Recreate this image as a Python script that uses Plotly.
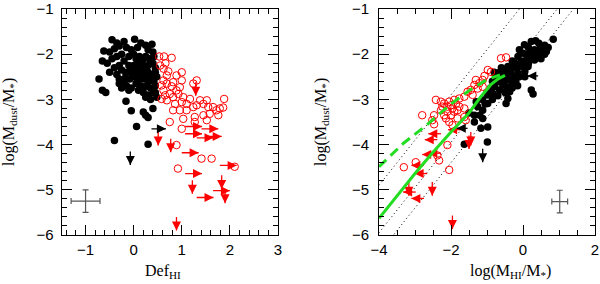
import plotly.graph_objects as go

# ---------------- Left panel data: Def_HI vs log(Mdust/M*) ----------------
L_black_x = [-0.45,-0.35,-0.2,0.02,0.15,0.25,0.38,-0.5,-0.4,-0.3,-0.15,-0.05,0.08,0.3,0.4,-0.62,
             -0.65,-0.55,-0.45,-0.35,-0.25,-0.2,-0.1,0.0,0.05,0.12,0.18,0.25,0.32,0.42,0.4,0.3,0.2,0.1,0.0,-0.1,-0.3,-0.4,0.45,0.35,0.15,0.05,
             -0.5,-0.35,-0.25,-0.15,-0.05,0.0,0.05,0.1,0.15,0.2,0.25,0.3,0.35,0.4,0.45,0.48,0.02,-0.08,0.12,0.22,0.3,0.42,-0.3,-0.2,0.08,-0.02,
             -0.72,-0.65,-0.58,-0.3,-0.15,-0.05,0.05,0.15,0.2,0.28,0.35,0.45,0.4,0.3,0.2,0.1,-0.1,-0.25,0.45,0.48,0.25,
             -0.16,-0.05,0.2,0.25,0.3,0.4,0.06,0.35,-0.4,0.3]
L_black_y = [-1.68,-1.75,-1.72,-1.67,-1.75,-1.8,-1.78,-1.95,-1.88,-1.82,-1.85,-1.9,-1.85,-1.9,-1.95,-1.93,
             -2.15,-2.2,-2.1,-2.05,-2.0,-2.15,-2.05,-2.0,-2.1,-2.05,-2.15,-2.05,-2.1,-2.05,-2.2,-2.25,-2.28,-2.2,-2.25,-2.25,-2.25,-2.3,-2.3,-2.15,-2.3,-2.3,
             -2.4,-2.45,-2.35,-2.4,-2.35,-2.4,-2.45,-2.4,-2.5,-2.38,-2.45,-2.4,-2.5,-2.45,-2.4,-2.5,-2.5,-2.55,-2.55,-2.55,-2.6,-2.6,-2.55,-2.6,-2.35,-2.45,
             -2.55,-2.8,-2.85,-2.65,-2.7,-2.75,-2.65,-2.7,-2.75,-2.7,-2.75,-2.7,-2.85,-2.9,-2.85,-2.8,-2.8,-2.75,-2.85,-2.95,-2.95,
             -3.04,-3.25,-3.28,-3.35,-3.4,-3.2,-3.6,-3.0,-3.91,-3.99]

L_red_x = [0.53,0.63,0.79,0.66,0.55,0.62,0.72,1.0,0.69,0.89,0.62,0.82,0.58,0.69,0.79,0.96,0.62,0.89,1.0,1.24,
           0.75,0.65,0.58,0.82,0.93,1.03,0.69,0.86,1.0,1.17,1.1,1.31,1.38,0.82,0.96,1.1,1.24,1.45,1.55,1.65,
           1.72,1.79,1.88,1.86,1.76,1.58,1.45,1.27,1.03,1.0,0.75,1.27,1.52,0.89,0.92,1.41,1.62,2.1,1.52,1.31]
L_red_y = [-2.05,-2.05,-2.08,-2.2,-2.25,-2.32,-2.38,-2.4,-2.47,-2.47,-2.58,-2.62,-2.69,-2.65,-2.71,-2.73,-2.8,-2.8,-2.58,-2.65,
           -2.88,-2.91,-2.99,-2.95,-2.88,-2.95,-3.02,-3.1,-3.06,-2.99,-3.1,-3.13,-3.02,-3.24,-3.24,-3.24,-3.17,-3.1,-3.17,-3.17,
           -3.24,-3.2,-2.99,-3.18,-3.35,-3.32,-3.35,-3.39,-3.43,-3.65,-3.5,-3.5,-3.46,-4.01,-4.53,-4.31,-4.31,-4.49,-3.02,-2.58]

# upper limits (down arrows): start points
L_red_down_x = [1.29,0.51,0.77,1.22,1.83,1.9,0.89]
L_red_down_y = [-2.62,-3.72,-3.87,-4.79,-4.68,-5.0,-5.6]
# lower limits on Def_HI (right arrows): start points
L_red_right_x = [1.07,1.41,1.07,1.48,1.31,1.0,1.07,1.79,1.31,1.65]
L_red_right_y = [-3.6,-3.65,-3.76,-3.82,-3.85,-4.18,-4.64,-4.46,-5.17,-5.02]
L_black_down_x = [-0.07]
L_black_down_y = [-4.15]
L_black_right_x = [0.37,-0.35]
L_black_right_y = [-3.65,-2.5]

# ---------------- Right panel data: log(MHI/M*) vs log(Mdust/M*) ----------------
R_black_x = [0.84,0.44,0.23,0.35,0.55,0.04,0.15,0.32,0.51,0.65,0.6,0.23,0.0,-0.1,0.1,0.4,-0.14,0.09,0.32,-0.05,
             0.2,-0.23,0.0,0.15,-0.3,-0.42,-0.09,0.14,-0.2,-0.51,-0.35,-0.33,-0.14,0.05,-0.45,-0.61,-0.25,-0.4,-0.47,-0.7,
             -0.55,-0.3,-0.56,-0.79,-0.45,-0.65,-0.84,-0.5,-0.98,-0.7,-1.12,-0.98,-0.85,-1.26,-1.12,-1.35,-1.12,-1.35,-0.98,-1.17,
             -1.63,-0.99,0.23,0.28,-0.42,-0.47,-0.37,-0.6,-0.75,-0.65,-0.85,-0.9,0.3,0.45,0.5,-0.2,-0.1,0.05,-1.0,-1.05,
             -0.8,-0.15,-0.3,0.6,0.7,-1.5,-1.3,-1.2]
R_black_y = [-1.67,-1.76,-1.72,-1.7,-1.85,-1.79,-1.85,-1.9,-1.96,-1.94,-2.0,-1.98,-1.98,-1.9,-2.0,-2.05,-2.05,-2.13,-2.13,-2.15,
             -2.1,-2.2,-2.25,-2.2,-2.15,-2.27,-2.27,-2.27,-2.3,-2.35,-2.3,-2.42,-2.42,-2.38,-2.45,-2.46,-2.5,-2.55,-2.57,-2.61,
             -2.6,-2.62,-2.68,-2.72,-2.72,-2.79,-2.87,-2.85,-2.9,-2.92,-3.01,-3.09,-3.0,-3.16,-3.24,-3.35,-3.42,-3.5,-3.61,-3.64,
             -3.99,-3.94,-2.79,-2.88,-2.98,-3.09,-2.83,-2.3,-2.5,-2.4,-2.6,-2.75,-2.0,-1.9,-2.1,-2.6,-2.5,-2.5,-2.85,-3.1,
             -2.4,-2.7,-2.75,-1.8,-1.85,-3.3,-3.05,-3.35]

R_red_x = [-0.47,-0.61,-0.98,-0.89,-1.07,-1.12,-1.31,-1.21,-1.35,-1.12,-1.26,-1.45,-1.54,-1.4,-1.63,-1.77,-1.91,-2.05,-2.19,-2.0,
           -1.86,-1.77,-1.96,-2.1,-2.24,-2.28,-2.1,-1.91,-1.82,-1.63,-2.0,-2.19,-2.14,-1.82,-1.63,-1.59,-2.05,-1.96,-2.47,-2.52,
           -2.47,-2.8,-2.42,-2.28,-2.1,-2.38,-2.33,-2.98,-3.31,-2.05]
R_red_y = [-2.07,-2.09,-2.35,-2.39,-2.48,-2.57,-2.57,-2.64,-2.68,-2.72,-2.76,-2.79,-2.83,-2.9,-2.94,-2.98,-3.01,-3.05,-3.09,-3.13,
           -3.1,-3.16,-3.2,-3.16,-3.16,-3.24,-3.27,-3.27,-3.24,-3.2,-3.35,-3.35,-3.42,-3.42,-3.39,-3.46,-3.5,-3.57,-3.35,-3.46,
           -3.55,-3.35,-3.01,-3.05,-4.01,-4.24,-4.35,-4.39,-4.5,-4.56]

R_red_down_x = [-1.45,-1.5,-2.52,-3.17,-1.96]
R_red_down_y = [-3.72,-3.8,-4.83,-4.83,-5.57]
R_red_left_x = [-2.28,-2.38,-2.28,-2.45,-2.75,-2.66,-2.98,-2.75,-1.73]
R_red_left_y = [-3.76,-3.89,-4.19,-4.22,-4.46,-4.64,-5.05,-5.19,-3.67]
R_black_down_x = [-1.12]
R_black_down_y = [-4.09]
R_black_left_x = [-1.54,0.42]
R_black_left_y = [-3.64,-2.48]

# model curves (right panel)
solid_x = [-4.0,-3.5,-3.0,-2.5,-2.0,-1.5,-1.2,-0.9,-0.7,-0.5]
solid_y = [-5.63,-5.13,-4.64,-4.17,-3.72,-3.3,-2.97,-2.68,-2.55,-2.47]
dash_x = [-4.0,-3.32,-2.68,-2.03,-1.47,-1.0,-0.64]
dash_y = [-4.49,-3.97,-3.57,-3.12,-2.79,-2.56,-2.46]
# dotted reference relations y = x + c
dot_intercepts = [-0.9, -1.95, -2.4]

# typical error bars
L_err_x, L_err_y, L_err_dx, L_err_dy = [-1.0], [-5.25], [0.3], [0.25]
R_err_x, R_err_y, R_err_dx, R_err_dy = [1.02], [-5.26], [0.22], [0.25]

RED = "#ff0000"
ARROW_LEN = 0.3

fig = go.Figure()

def add_arrows(xs, ys, dx, dy, color, symbol, xa, ya, msize=9):
    lx, ly, hx, hy = [], [], [], []
    for x, y in zip(xs, ys):
        lx += [x, x + dx, None]
        ly += [y, y + dy, None]
        hx.append(x + dx)
        hy.append(y + dy)
    fig.add_trace(go.Scatter(x=lx, y=ly, mode="lines", line=dict(color=color, width=1.3),
                             xaxis=xa, yaxis=ya, showlegend=False, hoverinfo="skip"))
    fig.add_trace(go.Scatter(x=hx, y=hy, mode="markers",
                             marker=dict(symbol=symbol, size=msize, color=color, line=dict(width=0)),
                             xaxis=xa, yaxis=ya, showlegend=False, hoverinfo="skip"))

# ---- left panel ----
fig.add_trace(go.Scatter(x=L_black_x, y=L_black_y, mode="markers",
                         marker=dict(size=7.5, color="black"), xaxis="x", yaxis="y", showlegend=False))
fig.add_trace(go.Scatter(x=L_red_x, y=L_red_y, mode="markers",
                         marker=dict(size=7.5, color="rgba(0,0,0,0)", line=dict(color=RED, width=1)),
                         xaxis="x", yaxis="y", showlegend=False))
add_arrows(L_red_down_x, L_red_down_y, 0, -ARROW_LEN, RED, "arrow-down", "x", "y")
add_arrows(L_red_right_x, L_red_right_y, 0.35, 0, RED, "arrow-right", "x", "y")
add_arrows(L_black_down_x, L_black_down_y, 0, -ARROW_LEN, "black", "arrow-down", "x", "y")
add_arrows(L_black_right_x, L_black_right_y, 0.3, 0, "black", "arrow-right", "x", "y")
fig.add_trace(go.Scatter(x=L_err_x, y=L_err_y, mode="markers", marker=dict(size=0.1, color="#555"),
                         error_x=dict(type="data", array=L_err_dx, color="#555", width=3, thickness=1.2),
                         error_y=dict(type="data", array=L_err_dy, color="#555", width=3, thickness=1.2),
                         xaxis="x", yaxis="y", showlegend=False))

# ---- right panel ----
for c in dot_intercepts:
    xs = [-4.0, 2.0]
    fig.add_trace(go.Scatter(x=xs, y=[v + c for v in xs], mode="lines",
                             line=dict(color="black", width=1, dash="1px,3px"),
                             xaxis="x2", yaxis="y2", showlegend=False, hoverinfo="skip"))
fig.add_trace(go.Scatter(x=R_black_x, y=R_black_y, mode="markers",
                         marker=dict(size=7.5, color="black"), xaxis="x2", yaxis="y2", showlegend=False))
fig.add_trace(go.Scatter(x=R_red_x, y=R_red_y, mode="markers",
                         marker=dict(size=7.5, color="rgba(0,0,0,0)", line=dict(color=RED, width=1)),
                         xaxis="x2", yaxis="y2", showlegend=False))
add_arrows(R_red_down_x, R_red_down_y, 0, -ARROW_LEN, RED, "arrow-down", "x2", "y2")
add_arrows(R_red_left_x, R_red_left_y, -0.35, 0, RED, "arrow-left", "x2", "y2")
add_arrows(R_black_down_x, R_black_down_y, 0, -ARROW_LEN, "black", "arrow-down", "x2", "y2")
add_arrows(R_black_left_x, R_black_left_y, -0.3, 0, "black", "arrow-left", "x2", "y2")
fig.add_trace(go.Scatter(x=solid_x, y=solid_y, mode="lines", line=dict(color="#22dd22", width=3),
                         xaxis="x2", yaxis="y2", showlegend=False))
fig.add_trace(go.Scatter(x=dash_x, y=dash_y, mode="lines",
                         line=dict(color="#22dd22", width=3, dash="10px,6px"),
                         xaxis="x2", yaxis="y2", showlegend=False))
fig.add_trace(go.Scatter(x=R_err_x, y=R_err_y, mode="markers", marker=dict(size=0.1, color="#555"),
                         error_x=dict(type="data", array=R_err_dx, color="#555", width=3, thickness=1.2),
                         error_y=dict(type="data", array=R_err_dy, color="#555", width=3, thickness=1.2),
                         xaxis="x2", yaxis="y2", showlegend=False))

tickfont = dict(family="Liberation Sans", size=15, color="black")
common = dict(showline=True, linecolor="black", linewidth=1, mirror="allticks", ticks="inside",
              ticklen=10, tickwidth=1, tickcolor="black", showgrid=False, zeroline=False,
              tickfont=tickfont, automargin=False)

W, H = 600, 284
ybot, ytop = 235, 9
yd = [1 - ybot / H, 1 - ytop / H]

fig.update_layout(
    width=W, height=H, margin=dict(l=0, r=0, t=0, b=0, autoexpand=False),
    paper_bgcolor="white", plot_bgcolor="white",
    xaxis=dict(domain=[61.5 / W, 278 / W], range=[-1.5, 3], tickvals=[-1, 0, 1, 2, 3], anchor="y",
               minor=dict(ticks="inside", ticklen=5, dtick=0.2, tick0=0, tickcolor="black", showgrid=False),
               ticklabelstandoff=1, **common),
    yaxis=dict(domain=yd, range=[-6, -1], tickvals=[-6, -5, -4, -3, -2, -1], anchor="x",
               minor=dict(ticks="inside", ticklen=5, dtick=0.2, tick0=0, tickcolor="black", showgrid=False),
               ticklabelstandoff=4, **common),
    xaxis2=dict(domain=[379 / W, 595 / W], range=[-4, 2], tickvals=[-4, -2, 0, 2], anchor="y2",
                minor=dict(ticks="inside", ticklen=5, dtick=0.5, tick0=0, tickcolor="black", showgrid=False),
                ticklabelstandoff=1, **common),
    yaxis2=dict(domain=yd, range=[-6, -1], tickvals=[-6, -5, -4, -3, -2, -1], anchor="x2",
                minor=dict(ticks="inside", ticklen=5, dtick=0.2, tick0=0, tickcolor="black", showgrid=False),
                ticklabelstandoff=6, **common),
)

titlefont = dict(family="Liberation Serif", size=16, color="black")
fig.add_annotation(text="Def<sub>HI</sub>", x=163 / W, y=1 - 282 / H, xref="paper", yref="paper",
                   showarrow=False, font=titlefont, xanchor="center", yanchor="bottom", borderpad=0)
fig.add_annotation(text="log(M<sub>HI</sub>/M<sub>*</sub>)", x=510 / W, y=1 - 282 / H, xref="paper", yref="paper",
                   showarrow=False, font=titlefont, xanchor="center", yanchor="bottom", borderpad=0)
fig.add_annotation(text="log(M<sub>dust</sub>/M<sub>*</sub>)", x=9 / W, y=1 - 122 / H, xref="paper", yref="paper",
                   showarrow=False, font=titlefont, textangle=-90, xanchor="center", yanchor="middle")
fig.add_annotation(text="log(M<sub>dust</sub>/M<sub>*</sub>)", x=321 / W, y=1 - 122 / H, xref="paper", yref="paper",
                   showarrow=False, font=titlefont, textangle=-90, xanchor="center", yanchor="middle")

fig.write_html("out.html", config={"displayModeBar": False},
               post_script="document.body.style.margin='0';document.body.style.overflow='hidden';")
